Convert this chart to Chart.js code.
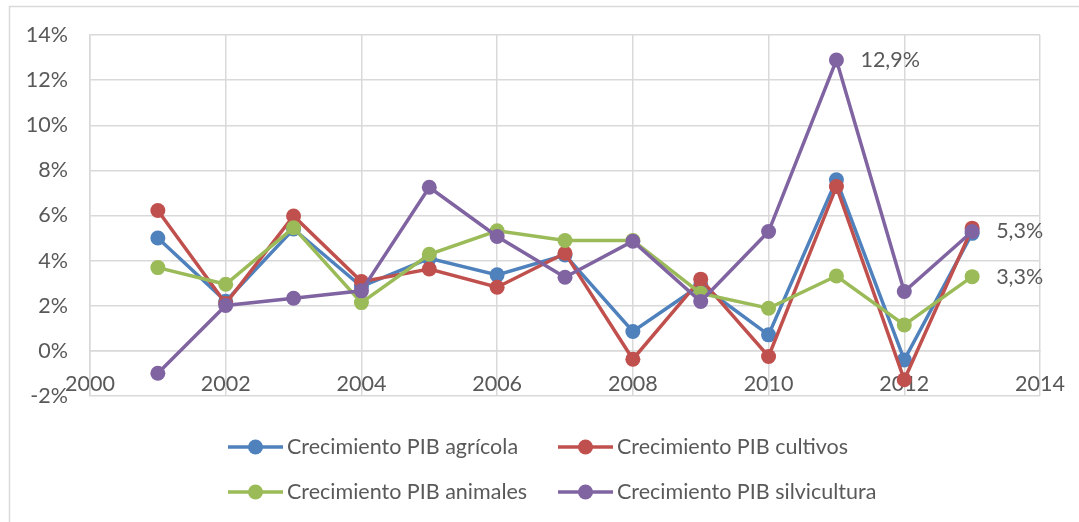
<!DOCTYPE html>
<html lang="es">
<head>
<meta charset="utf-8">
<title>Crecimiento PIB</title>
<script src="https://cdn.jsdelivr.net/npm/chart.js@4.4.1/dist/chart.umd.min.js"></script>
<style>
    html, body { margin: 0; padding: 0; background: #ffffff; }
    #grafico { display: block; }
</style>
</head>
<body>
<canvas id="grafico" width="1079" height="522"></canvas>
<script>
// Datos (porcentaje)
const anios = [2001, 2002, 2003, 2004, 2005, 2006, 2007, 2008, 2009, 2010, 2011, 2012, 2013];
const pibAgricola = [5.0, 2.2, 5.4, 2.85, 4.1, 3.37, 4.25, 0.86, 2.92, 0.71, 7.58, -0.4, 5.21];
const pibCultivos = [6.22, 2.1, 5.98, 3.07, 3.63, 2.82, 4.33, -0.37, 3.18, -0.25, 7.28, -1.28, 5.44];
const pibAnimales = [3.69, 2.95, 5.46, 2.14, 4.28, 5.32, 4.89, 4.89, 2.55, 1.89, 3.32, 1.15, 3.29];
const pibSilvicultura = [-0.99, 2.01, 2.33, 2.66, 7.25, 5.07, 3.26, 4.86, 2.19, 5.29, 12.89, 2.63, 5.29];

const nombresSeries = [
    "Crecimiento PIB agrícola",
    "Crecimiento PIB cultivos",
    "Crecimiento PIB animales",
    "Crecimiento PIB silvicultura"
];
const coloresSeries = ["#4F81BD", "#C0504D", "#9BBB59", "#8064A2"];

// Etiquetas de datos visibles: [serie, índice del año]
const etiquetasDatos = [[3, 10], [3, 12], [2, 12]];

const ejeXMin = 2000, ejeXMax = 2014, ejeXPaso = 2;
const ejeYMin = -2, ejeYMax = 14, ejeYPaso = 2;

const colorTexto = "#595959";
const colorRejilla = "#D9D9D9";
const fuente = "Lato, 'Noto Sans', sans-serif";
const tamFuente = 21.5;

const formatoPct = v => `${v.toFixed(1).replace(".", ",")}%`;

const valores = [pibAgricola, pibCultivos, pibAnimales, pibSilvicultura];

const datasets = valores.map((serie, i) => ({
    label: nombresSeries[i],
    data: serie.map((v, j) => ({ x: anios[j], y: v })),
    borderColor: coloresSeries[i],
    backgroundColor: coloresSeries[i],
    pointBackgroundColor: coloresSeries[i],
    pointBorderColor: coloresSeries[i],
    borderWidth: 3.5,
    pointRadius: 7.5,
    pointBorderWidth: 0,
    tension: 0,
    // Excel pinta la última serie encima
    order: valores.length - i
}));

// Marco exterior, etiquetas de datos y leyenda
const extrasPlugin = {
    id: "extras",
    beforeDraw(chart) {
        const ctx = chart.ctx;
        ctx.save();
        ctx.strokeStyle = colorRejilla;
        ctx.lineWidth = 1.5;
        ctx.strokeRect(9.5, 6.5, 1200, 700);
        ctx.restore();
    },
    afterDraw(chart) {
        const ctx = chart.ctx;
        const x = chart.scales.x;
        const y = chart.scales.y;

        ctx.save();
        ctx.font = `${tamFuente}px ${fuente}`;
        ctx.fillStyle = colorTexto;
        ctx.textBaseline = "middle";
        ctx.textAlign = "left";
        etiquetasDatos.forEach(([s, j]) => {
            const px = x.getPixelForValue(anios[j]);
            const py = y.getPixelForValue(valores[s][j]);
            ctx.fillText(formatoPct(valores[s][j]), px + 24, py);
        });

        // Leyenda en dos filas
        const columnas = [228, 558];
        const filas = [447, 492];
        nombresSeries.forEach((nombre, i) => {
            const lx = columnas[i % 2];
            const ly = filas[Math.floor(i / 2)];
            ctx.strokeStyle = coloresSeries[i];
            ctx.fillStyle = coloresSeries[i];
            ctx.lineWidth = 3.5;
            ctx.beginPath();
            ctx.moveTo(lx, ly);
            ctx.lineTo(lx + 55, ly);
            ctx.stroke();
            ctx.beginPath();
            ctx.arc(lx + 27.5, ly, 7.5, 0, Math.PI * 2);
            ctx.fill();
            ctx.fillStyle = colorTexto;
            ctx.fillText(nombre, lx + 59, ly);
        });
        ctx.restore();
    }
};

new Chart(document.getElementById("grafico"), {
    type: "line",
    data: { datasets: datasets },
    plugins: [extrasPlugin],
    options: {
        responsive: false,
        animation: false,
        devicePixelRatio: 1,
        layout: {
            padding: { left: 20, top: 35, right: 39, bottom: 126 }
        },
        plugins: {
            legend: { display: false },
            tooltip: { enabled: false }
        },
        scales: {
            x: {
                type: "linear",
                position: { y: 0 },
                min: ejeXMin,
                max: ejeXMax,
                afterFit: escala => {
                    escala.paddingLeft = 0;
                    escala.paddingRight = 0;
                },
                ticks: {
                    stepSize: ejeXPaso,
                    padding: 20,
                    color: colorTexto,
                    font: { family: fuente, size: tamFuente },
                    callback: v => String(v),
                    maxRotation: 0
                },
                grid: { color: colorRejilla, lineWidth: 1.5, drawTicks: false },
                border: { color: colorRejilla, width: 1.5 }
            },
            y: {
                min: ejeYMin,
                max: ejeYMax,
                afterFit: escala => { escala.width = 70; },
                ticks: {
                    stepSize: ejeYPaso,
                    padding: 22,
                    color: colorTexto,
                    font: { family: fuente, size: tamFuente },
                    callback: v => `${v}%`
                },
                grid: { color: colorRejilla, lineWidth: 1.5, drawTicks: false },
                border: { color: colorRejilla, width: 1.5 }
            }
        }
    }
});
</script>
</body>
</html>
